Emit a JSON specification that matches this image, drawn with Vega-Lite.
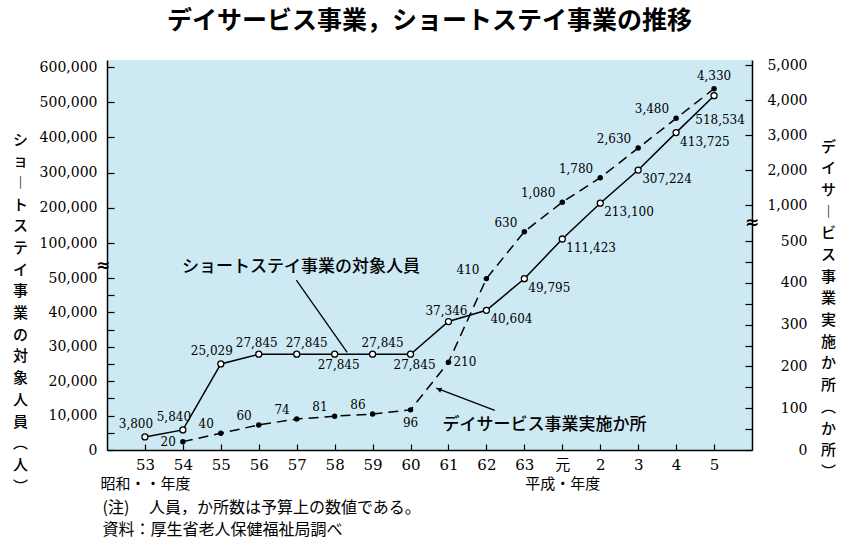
{
  "$schema": "https://vega.github.io/schema/vega-lite/v6.json",
  "width": 645,
  "height": 390,
  "autosize": {"type": "none"},
  "padding": {"left": 107, "top": 60, "right": 89, "bottom": 96},
  "background": "white",
  "title": {
    "text": "デイサービス事業，ショートステイ事業の推移",
    "font": "Noto Sans CJK JP",
    "fontSize": 25,
    "fontWeight": "bold",
    "color": "#000",
    "anchor": "middle",
    "frame": "group",
    "offset": 24
  },
  "datasets": {
    "shortstay": [
      {"year": 1978, "value": 3800},
      {"year": 1979, "value": 5840},
      {"year": 1980, "value": 25029},
      {"year": 1981, "value": 27845},
      {"year": 1982, "value": 27845},
      {"year": 1983, "value": 27845},
      {"year": 1984, "value": 27845},
      {"year": 1985, "value": 27845},
      {"year": 1986, "value": 37346},
      {"year": 1987, "value": 40604},
      {"year": 1988, "value": 49795},
      {"year": 1989, "value": 111423},
      {"year": 1990, "value": 213100},
      {"year": 1991, "value": 307224},
      {"year": 1992, "value": 413725},
      {"year": 1993, "value": 518534}
    ],
    "dayservice": [
      {"year": 1979, "value": 20},
      {"year": 1980, "value": 40},
      {"year": 1981, "value": 60},
      {"year": 1982, "value": 74},
      {"year": 1983, "value": 81},
      {"year": 1984, "value": 86},
      {"year": 1985, "value": 96},
      {"year": 1986, "value": 210},
      {"year": 1987, "value": 410},
      {"year": 1988, "value": 630},
      {"year": 1989, "value": 1080},
      {"year": 1990, "value": 1780},
      {"year": 1991, "value": 2630},
      {"year": 1992, "value": 3480},
      {"year": 1993, "value": 4330}
    ],
    "leader_short": [
      {"year": 1981.99, "value": 49400},
      {"year": 1983.33, "value": 28400}
    ],
    "leader_day": [
      {"year": 1987.22, "value": 95},
      {"year": 1985.68, "value": 148}
    ],
    "note_short": [
      {"year": 1978.98, "value": 65700, "label": "ショートステイ事業の対象人員"}
    ],
    "note_day": [
      {"year": 1985.84, "value": 60, "label": "デイサービス事業実施か所"}
    ],
    "arrow_day": [
      {"year": 1985.75, "value": 145}
    ],
    "break_left": [
      {"year": 1977, "value": 67000, "label": "≈"}
    ],
    "break_right": [
      {"year": 1994, "value": 750, "label": "≈"}
    ]
  },
  "layer": [
    {
      "layer": [
        {
          "data": {"name": "shortstay"},
          "mark": {"type": "line", "color": "#000", "strokeWidth": 1.5},
          "encoding": {
            "x": {
              "field": "year",
              "type": "quantitative",
              "scale": {"domain": [1977, 1994], "nice": false, "zero": false},
              "axis": {
                "values": [1978, 1979, 1980, 1981, 1982, 1983, 1984, 1985, 1986, 1987, 1988, 1989, 1990, 1991, 1992, 1993],
                "tickCount": 50,
                "labelExpr": "datum.value == 1978 ? ['53', '昭和・・年度'] : datum.value < 1989 ? '' + (datum.value - 1925) : datum.value == 1989 ? ['元', '平成・年度'] : '' + (datum.value - 1988)",
                "labelFont": "DejaVu Serif, 'Noto Sans CJK JP'",
                "labelFontSize": 15,
                "labelLineHeight": 19,
                "tickSize": -6,
                "labelPadding": 13,
                "title": ["(注)　 人員，か所数は予算上の数値である。", "資料：厚生省老人保健福祉局調べ"],
                "titleFont": "Noto Sans CJK JP",
                "titleFontSize": 16,
                "titleFontWeight": "normal",
                "titleLineHeight": 22,
                "titleAnchor": "start",
                "titleAlign": "left",
                "titleBaseline": "top",
                "titleX": -5,
                "titleY": 49
              }
            },
            "y": {
              "field": "value",
              "type": "quantitative",
              "scale": {"domain": [0, 50000, 100000, 620000], "range": [390, 218, 183, 0], "nice": false, "zero": false},
              "axis": {
                "orient": "left",
                "values": [0, 5000, 10000, 15000, 20000, 25000, 30000, 35000, 40000, 45000, 50000, 100000, 200000, 300000, 400000, 500000, 600000],
                "tickCount": 50,
                "labelExpr": "datum.value % 10000 == 0 ? format(datum.value, ',') : ''",
                "tickSize": -7,
                "labelPadding": 17,
                "title": ["シ", "ョ", "︱", "ト", "ス", "テ", "イ", "事", "業", "の", "対", "象", "人", "員", "︵", "人", "︶"],
                "titleFont": "Noto Sans CJK JP",
                "titleFontSize": 15,
                "titleFontWeight": 500,
                "titleLineHeight": 21.7,
                "titleAngle": 0,
                "titleAlign": "center",
                "titleBaseline": "top",
                "titleX": -87,
                "titleY": 72
              }
            }
          }
        },
        {
          "data": {"name": "shortstay"},
          "mark": {"type": "point", "shape": "circle", "filled": true, "fill": "#fff", "stroke": "#000", "strokeWidth": 1.3, "size": 36, "opacity": 1},
          "encoding": {
            "x": {"field": "year", "type": "quantitative", "scale": {"domain": [1977, 1994], "nice": false, "zero": false}},
            "y": {"field": "value", "type": "quantitative", "scale": {"domain": [0, 50000, 100000, 620000], "range": [390, 218, 183, 0], "nice": false, "zero": false}}
          }
        },
        {
          "data": {"name": "shortstay"},
          "transform": [{"filter": {"field": "year", "oneOf": [1978, 1979, 1980]}}],
          "mark": {"type": "text", "align": "center", "baseline": "middle", "dx": -9, "dy": -13},
          "encoding": {
            "x": {"field": "year", "type": "quantitative", "scale": {"domain": [1977, 1994], "nice": false, "zero": false}},
            "y": {"field": "value", "type": "quantitative", "scale": {"domain": [0, 50000, 100000, 620000], "range": [390, 218, 183, 0], "nice": false, "zero": false}},
            "text": {"field": "value", "type": "quantitative", "format": ","}
          }
        },
        {
          "data": {"name": "shortstay"},
          "transform": [{"filter": {"field": "year", "oneOf": [1981, 1986]}}],
          "mark": {"type": "text", "align": "center", "baseline": "middle", "dx": -2, "dy": -11},
          "encoding": {
            "x": {"field": "year", "type": "quantitative", "scale": {"domain": [1977, 1994], "nice": false, "zero": false}},
            "y": {"field": "value", "type": "quantitative", "scale": {"domain": [0, 50000, 100000, 620000], "range": [390, 218, 183, 0], "nice": false, "zero": false}},
            "text": {"field": "value", "type": "quantitative", "format": ","}
          }
        },
        {
          "data": {"name": "shortstay"},
          "transform": [{"filter": {"field": "year", "oneOf": [1982, 1984]}}],
          "mark": {"type": "text", "align": "center", "baseline": "middle", "dx": 10, "dy": -11},
          "encoding": {
            "x": {"field": "year", "type": "quantitative", "scale": {"domain": [1977, 1994], "nice": false, "zero": false}},
            "y": {"field": "value", "type": "quantitative", "scale": {"domain": [0, 50000, 100000, 620000], "range": [390, 218, 183, 0], "nice": false, "zero": false}},
            "text": {"field": "value", "type": "quantitative", "format": ","}
          }
        },
        {
          "data": {"name": "shortstay"},
          "transform": [{"filter": {"field": "year", "oneOf": [1983, 1985]}}],
          "mark": {"type": "text", "align": "center", "baseline": "middle", "dx": 4, "dy": 11},
          "encoding": {
            "x": {"field": "year", "type": "quantitative", "scale": {"domain": [1977, 1994], "nice": false, "zero": false}},
            "y": {"field": "value", "type": "quantitative", "scale": {"domain": [0, 50000, 100000, 620000], "range": [390, 218, 183, 0], "nice": false, "zero": false}},
            "text": {"field": "value", "type": "quantitative", "format": ","}
          }
        },
        {
          "data": {"name": "shortstay"},
          "transform": [{"filter": {"field": "year", "oneOf": [1987, 1988, 1989, 1990, 1991, 1992]}}],
          "mark": {"type": "text", "align": "left", "baseline": "middle", "dx": 4, "dy": 9},
          "encoding": {
            "x": {"field": "year", "type": "quantitative", "scale": {"domain": [1977, 1994], "nice": false, "zero": false}},
            "y": {"field": "value", "type": "quantitative", "scale": {"domain": [0, 50000, 100000, 620000], "range": [390, 218, 183, 0], "nice": false, "zero": false}},
            "text": {"field": "value", "type": "quantitative", "format": ","}
          }
        },
        {
          "data": {"name": "shortstay"},
          "transform": [{"filter": {"field": "year", "oneOf": [1993]}}],
          "mark": {"type": "text", "align": "center", "baseline": "middle", "dx": 6, "dy": 24},
          "encoding": {
            "x": {"field": "year", "type": "quantitative", "scale": {"domain": [1977, 1994], "nice": false, "zero": false}},
            "y": {"field": "value", "type": "quantitative", "scale": {"domain": [0, 50000, 100000, 620000], "range": [390, 218, 183, 0], "nice": false, "zero": false}},
            "text": {"field": "value", "type": "quantitative", "format": ","}
          }
        },
        {
          "data": {"name": "leader_short"},
          "mark": {"type": "line", "color": "#000", "strokeWidth": 1.3},
          "encoding": {
            "x": {"field": "year", "type": "quantitative", "scale": {"domain": [1977, 1994], "nice": false, "zero": false}},
            "y": {"field": "value", "type": "quantitative", "scale": {"domain": [0, 50000, 100000, 620000], "range": [390, 218, 183, 0], "nice": false, "zero": false}}
          }
        },
        {
          "data": {"name": "note_short"},
          "mark": {"type": "text", "font": "Noto Sans CJK JP", "fontSize": 17, "fontWeight": 500, "align": "left", "baseline": "middle"},
          "encoding": {
            "x": {"field": "year", "type": "quantitative", "scale": {"domain": [1977, 1994], "nice": false, "zero": false}},
            "y": {"field": "value", "type": "quantitative", "scale": {"domain": [0, 50000, 100000, 620000], "range": [390, 218, 183, 0], "nice": false, "zero": false}},
            "text": {"field": "label", "type": "nominal"}
          }
        },
        {
          "data": {"name": "break_left"},
          "mark": {"type": "text", "font": "DejaVu Sans", "fontSize": 17, "fontWeight": "bold", "align": "center", "baseline": "middle", "dx": -4},
          "encoding": {
            "x": {"field": "year", "type": "quantitative", "scale": {"domain": [1977, 1994], "nice": false, "zero": false}},
            "y": {"field": "value", "type": "quantitative", "scale": {"domain": [0, 50000, 100000, 620000], "range": [390, 218, 183, 0], "nice": false, "zero": false}},
            "text": {"field": "label", "type": "nominal"}
          }
        }
      ]
    },
    {
      "layer": [
        {
          "data": {"name": "dayservice"},
          "mark": {"type": "line", "color": "#000", "strokeWidth": 1.5, "strokeDash": [10, 6]},
          "encoding": {
            "x": {"field": "year", "type": "quantitative", "scale": {"domain": [1977, 1994], "nice": false, "zero": false}},
            "y": {
              "field": "value",
              "type": "quantitative",
              "scale": {"domain": [0, 500, 1000, 5150], "range": [390, 181, 145, 0], "nice": false, "zero": false},
              "axis": {
                "orient": "right",
                "values": [0, 50, 100, 150, 200, 250, 300, 350, 400, 450, 500, 1000, 2000, 3000, 4000, 5000],
                "tickCount": 50,
                "labelExpr": "datum.value % 100 == 0 ? format(datum.value, ',') : ''",
                "labelAlign": "right",
                "tickSize": -7,
                "labelPadding": 62,
                "title": ["デ", "イ", "サ", "︱", "ビ", "ス", "事", "業", "実", "施", "か", "所", "︵", "か", "所", "︶"],
                "titleFont": "Noto Sans CJK JP",
                "titleFontSize": 15,
                "titleFontWeight": 500,
                "titleLineHeight": 21.7,
                "titleAngle": 0,
                "titleAlign": "center",
                "titleBaseline": "top",
                "titleX": 76,
                "titleY": 79
              }
            }
          }
        },
        {
          "data": {"name": "dayservice"},
          "mark": {"type": "point", "shape": "circle", "filled": true, "color": "#000", "size": 30, "opacity": 1},
          "encoding": {
            "x": {"field": "year", "type": "quantitative", "scale": {"domain": [1977, 1994], "nice": false, "zero": false}},
            "y": {"field": "value", "type": "quantitative", "scale": {"domain": [0, 500, 1000, 5150], "range": [390, 181, 145, 0], "nice": false, "zero": false}}
          }
        },
        {
          "data": {"name": "dayservice"},
          "transform": [{"filter": {"field": "year", "oneOf": [1980, 1981, 1982, 1983, 1984, 1987, 1988, 1989, 1990, 1991, 1992]}}],
          "mark": {"type": "text", "align": "right", "baseline": "middle", "dx": -7, "dy": -9},
          "encoding": {
            "x": {"field": "year", "type": "quantitative", "scale": {"domain": [1977, 1994], "nice": false, "zero": false}},
            "y": {"field": "value", "type": "quantitative", "scale": {"domain": [0, 500, 1000, 5150], "range": [390, 181, 145, 0], "nice": false, "zero": false}},
            "text": {"field": "value", "type": "quantitative", "format": ","}
          }
        },
        {
          "data": {"name": "dayservice"},
          "transform": [{"filter": {"field": "year", "oneOf": [1979]}}],
          "mark": {"type": "text", "align": "right", "baseline": "middle", "dx": -7, "dy": 0},
          "encoding": {
            "x": {"field": "year", "type": "quantitative", "scale": {"domain": [1977, 1994], "nice": false, "zero": false}},
            "y": {"field": "value", "type": "quantitative", "scale": {"domain": [0, 500, 1000, 5150], "range": [390, 181, 145, 0], "nice": false, "zero": false}},
            "text": {"field": "value", "type": "quantitative", "format": ","}
          }
        },
        {
          "data": {"name": "dayservice"},
          "transform": [{"filter": {"field": "year", "oneOf": [1985]}}],
          "mark": {"type": "text", "align": "center", "baseline": "middle", "dx": 0, "dy": 13},
          "encoding": {
            "x": {"field": "year", "type": "quantitative", "scale": {"domain": [1977, 1994], "nice": false, "zero": false}},
            "y": {"field": "value", "type": "quantitative", "scale": {"domain": [0, 500, 1000, 5150], "range": [390, 181, 145, 0], "nice": false, "zero": false}},
            "text": {"field": "value", "type": "quantitative", "format": ","}
          }
        },
        {
          "data": {"name": "dayservice"},
          "transform": [{"filter": {"field": "year", "oneOf": [1986]}}],
          "mark": {"type": "text", "align": "left", "baseline": "middle", "dx": 5, "dy": 0},
          "encoding": {
            "x": {"field": "year", "type": "quantitative", "scale": {"domain": [1977, 1994], "nice": false, "zero": false}},
            "y": {"field": "value", "type": "quantitative", "scale": {"domain": [0, 500, 1000, 5150], "range": [390, 181, 145, 0], "nice": false, "zero": false}},
            "text": {"field": "value", "type": "quantitative", "format": ","}
          }
        },
        {
          "data": {"name": "dayservice"},
          "transform": [{"filter": {"field": "year", "oneOf": [1993]}}],
          "mark": {"type": "text", "align": "center", "baseline": "middle", "dx": 0, "dy": -13},
          "encoding": {
            "x": {"field": "year", "type": "quantitative", "scale": {"domain": [1977, 1994], "nice": false, "zero": false}},
            "y": {"field": "value", "type": "quantitative", "scale": {"domain": [0, 500, 1000, 5150], "range": [390, 181, 145, 0], "nice": false, "zero": false}},
            "text": {"field": "value", "type": "quantitative", "format": ","}
          }
        },
        {
          "data": {"name": "leader_day"},
          "mark": {"type": "line", "color": "#000", "strokeWidth": 1.3},
          "encoding": {
            "x": {"field": "year", "type": "quantitative", "scale": {"domain": [1977, 1994], "nice": false, "zero": false}},
            "y": {"field": "value", "type": "quantitative", "scale": {"domain": [0, 500, 1000, 5150], "range": [390, 181, 145, 0], "nice": false, "zero": false}}
          }
        },
        {
          "data": {"name": "arrow_day"},
          "mark": {"type": "point", "shape": "triangle-left", "filled": true, "color": "#000", "size": 28, "angle": 21, "opacity": 1},
          "encoding": {
            "x": {"field": "year", "type": "quantitative", "scale": {"domain": [1977, 1994], "nice": false, "zero": false}},
            "y": {"field": "value", "type": "quantitative", "scale": {"domain": [0, 500, 1000, 5150], "range": [390, 181, 145, 0], "nice": false, "zero": false}}
          }
        },
        {
          "data": {"name": "note_day"},
          "mark": {"type": "text", "font": "Noto Sans CJK JP", "fontSize": 17, "fontWeight": 500, "align": "left", "baseline": "middle"},
          "encoding": {
            "x": {"field": "year", "type": "quantitative", "scale": {"domain": [1977, 1994], "nice": false, "zero": false}},
            "y": {"field": "value", "type": "quantitative", "scale": {"domain": [0, 500, 1000, 5150], "range": [390, 181, 145, 0], "nice": false, "zero": false}},
            "text": {"field": "label", "type": "nominal"}
          }
        },
        {
          "data": {"name": "break_right"},
          "mark": {"type": "text", "font": "DejaVu Sans", "fontSize": 17, "fontWeight": "bold", "align": "center", "baseline": "middle"},
          "encoding": {
            "x": {"field": "year", "type": "quantitative", "scale": {"domain": [1977, 1994], "nice": false, "zero": false}},
            "y": {"field": "value", "type": "quantitative", "scale": {"domain": [0, 500, 1000, 5150], "range": [390, 181, 145, 0], "nice": false, "zero": false}},
            "text": {"field": "label", "type": "nominal"}
          }
        }
      ]
    }
  ],
  "resolve": {"scale": {"y": "independent"}},
  "config": {
    "view": {"fill": "#cde9f3", "stroke": null},
    "axis": {
      "domainColor": "#000",
      "domainWidth": 1.5,
      "tickColor": "#000",
      "tickWidth": 1.2,
      "labelColor": "#000",
      "titleColor": "#000",
      "grid": false,
      "labelOverlap": false,
      "labelFlush": false,
      "labelFont": "DejaVu Serif",
      "labelFontSize": 14
    },
    "text": {"font": "DejaVu Serif", "fontSize": 12, "color": "#000"}
  }
}
